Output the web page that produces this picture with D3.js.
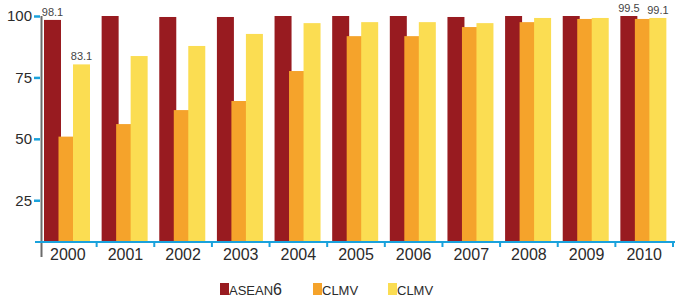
<!DOCTYPE html>
<html>
<head>
<meta charset="utf-8">
<script src="https://cdn.jsdelivr.net/npm/d3@7"></script>
<style>
  body { margin: 0; background: #fff; }
  svg { display: block; font-family: "Liberation Sans", Arial, sans-serif; }
</style>
</head>
<body>
<svg id="chart" width="676" height="297"></svg>
<script>
'use strict';

// data
var years = ['2000', '2001', '2002', '2003', '2004', '2005', '2006', '2007', '2008', '2009', '2010'];
var seriesNames = ['ASEAN6', 'CLMV', 'CLMV'];
var asean6 = [98.4, 100, 99.6, 99.6, 100, 100, 100, 99.6, 100, 100, 100];
var clmv = [50.9, 56.0, 61.7, 65.4, 77.6, 91.8, 91.8, 95.5, 97.5, 98.8, 98.8];
var clmv2 = [80.3, 83.7, 87.8, 92.7, 97.1, 97.5, 97.5, 97.1, 99.2, 99.2, 99.2];
var yTicks = [25, 50, 75, 100];
// printed value labels: [year, series index, text]
var valueLabels = [
    ['2000', 0, '98.1'],
    ['2000', 2, '83.1'],
    ['2010', 0, '99.5'],
    ['2010', 2, '99.1']
];

var COLORS = ['#981b20', '#f5a32b', '#fbdd52'];
var AXIS_BLUE = '#1aa2dc';
var AXIS_GREY = '#6b6b6b';
var TEXT_COLOR = '#2b2b2b';

var svg = d3.select('#chart');
var series = [asean6, clmv, clmv2];

var x = d3.scaleBand()
    .domain(years)
    .range([39, 673])
    .padding(0);

var inner = d3.scaleBand()
    .domain([0, 1, 2])
    .range([5, 48.5])
    .padding(0);
var BAR_W = 17;

var y = d3.scaleLinear()
    .domain([8, 100])
    .range([242, 16]);

// bars (drawn in series order so they overlap like the original)
series.forEach(function(values, s) {
    svg.append('g')
        .selectAll('rect')
        .data(values)
        .enter()
        .append('rect')
        .attr('x', function(d, i) { return x(years[i]) + inner(s); })
        .attr('y', function(d) { return y(d); })
        .attr('width', BAR_W)
        .attr('height', function(d) { return y.range()[0] - y(d); })
        .style('fill', COLORS[s]);
});

// value labels
svg.append('g')
    .selectAll('text')
    .data(valueLabels)
    .enter()
    .append('text')
    .attr('x', function(d) { return x(d[0]) + inner(d[1]) + BAR_W / 2; })
    .attr('y', function(d) {
        var i = years.indexOf(d[0]);
        return y(series[d[1]][i]) - 4;
    })
    .attr('text-anchor', 'middle')
    .style('font-size', '11px')
    .style('fill', '#444')
    .text(function(d) { return d[2]; });

// y axis
var yAxis = d3.axisLeft(y)
    .tickValues(yTicks)
    .tickSize(7)
    .tickPadding(2)
    .tickFormat(d3.format('d'));

var yg = svg.append('g')
    .attr('transform', 'translate(41,0)')
    .call(yAxis);
yg.select('.domain').remove();
yg.selectAll('.tick line')
    .attr('x1', -1)
    .style('stroke', AXIS_BLUE)
    .style('stroke-width', 2.5);
yg.selectAll('.tick text')
    .style('font-size', '15px')
    .style('font-family', '"Liberation Sans", Arial, sans-serif')
    .style('fill', TEXT_COLOR);

svg.append('line')
    .attr('x1', 41.5)
    .attr('x2', 41.5)
    .attr('y1', y(100))
    .attr('y2', 257)
    .style('stroke', AXIS_GREY)
    .style('stroke-width', 2);

// x axis
var baseY = y.range()[0];
svg.append('line')
    .attr('x1', 35)
    .attr('x2', 675)
    .attr('y1', baseY)
    .attr('y2', baseY)
    .style('stroke', AXIS_BLUE)
    .style('stroke-width', 2);

svg.append('g')
    .selectAll('line')
    .data(years)
    .enter()
    .append('line')
    .attr('x1', function(d) { return x(d) + x.bandwidth(); })
    .attr('x2', function(d) { return x(d) + x.bandwidth(); })
    .attr('y1', baseY)
    .attr('y2', baseY + 5)
    .style('stroke', AXIS_BLUE)
    .style('stroke-width', 2);

svg.append('g')
    .selectAll('text')
    .data(years)
    .enter()
    .append('text')
    .attr('x', function(d) { return x(d) + x.bandwidth() / 2; })
    .attr('y', 260)
    .attr('text-anchor', 'middle')
    .style('font-size', '16px')
    .style('fill', TEXT_COLOR)
    .text(function(d) { return d; });

// legend
var legendX = [220, 313, 388];
var legend = svg.append('g')
    .selectAll('g')
    .data(seriesNames)
    .enter()
    .append('g')
    .attr('transform', function(d, i) { return 'translate(' + legendX[i] + ',283)'; });

legend.append('rect')
    .attr('width', 9)
    .attr('height', 12)
    .style('fill', function(d, i) { return COLORS[i]; });

legend.append('text')
    .attr('x', 9)
    .attr('y', 12)
    .style('font-size', '13px')
    .style('fill', TEXT_COLOR)
    .each(function(d) {
        var t = d3.select(this);
        var m = d.match(/^(\D+)(\d*)$/);
        t.append('tspan').text(m[1]);
        if (m[2]) {
            t.append('tspan').style('font-size', '16px').text(m[2]);
        }
    });
</script>
</body>
</html>
